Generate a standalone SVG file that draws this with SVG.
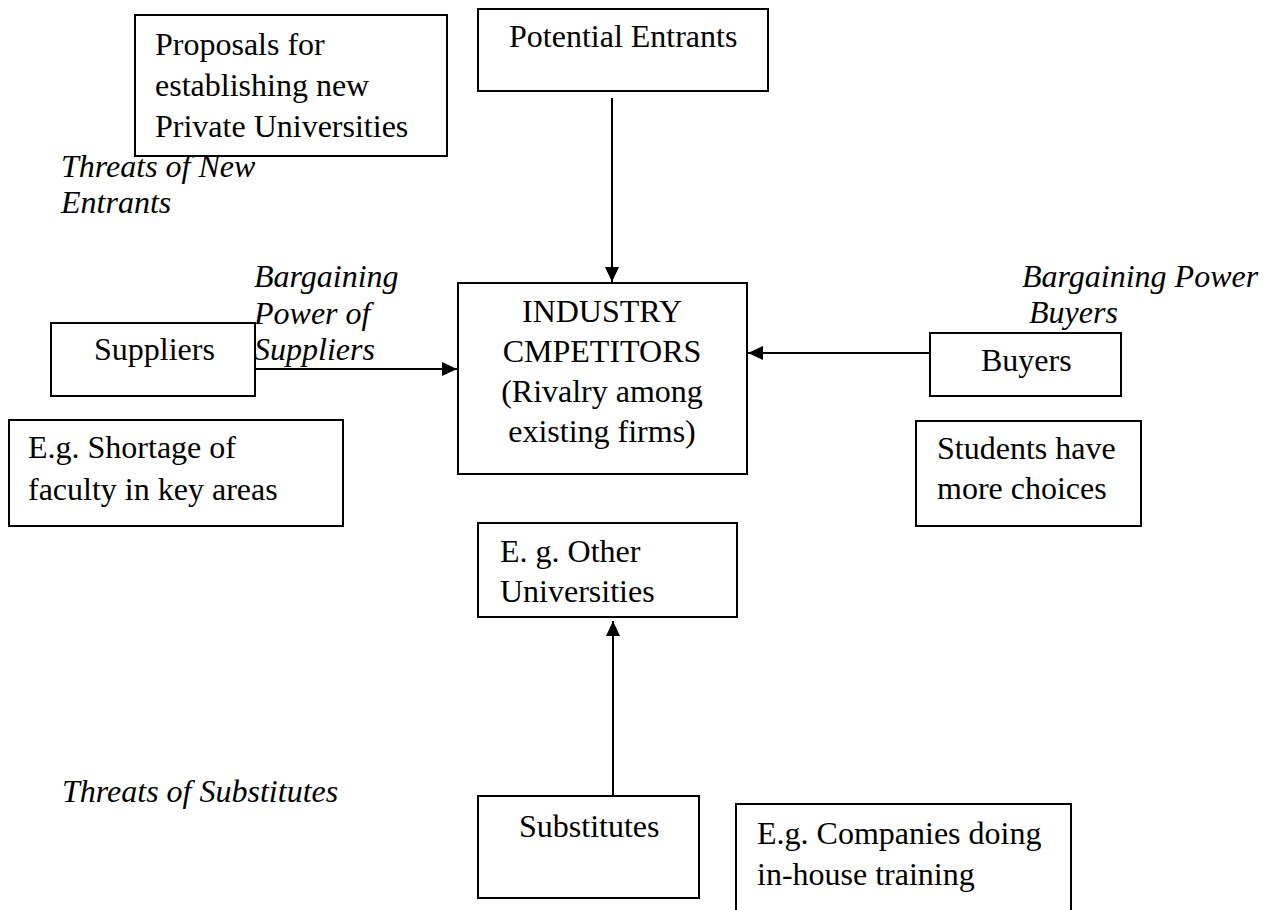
<svg xmlns="http://www.w3.org/2000/svg" width="1266" height="910" viewBox="0 0 1266 910" font-family="'Liberation Serif', 'Times New Roman', Times, serif">
<style>
text { font-family: 'Liberation Serif', 'Times New Roman', Times, serif; font-size: 32px; fill: #000; }
.lbl { font-style: italic; }
.box { fill: #fff; stroke: #000; stroke-width: 2; }
.conn { stroke: #000; stroke-width: 2; fill: none; marker-end: url(#arr); }
</style>
<defs>
<marker id="arr" markerUnits="userSpaceOnUse" markerWidth="16" markerHeight="14" refX="15" refY="7" orient="auto">
<path d="M0,0 L15,7 L0,14 z" fill="#000"/>
</marker>
</defs>
<rect width="1266" height="910" fill="#fff"/>

<g id="proposals">
<rect class="box" x="135" y="15" width="312" height="141"/>
<text x="155" y="55">Proposals for</text>
<text x="155" y="96">establishing new</text>
<text x="155" y="137">Private Universities</text>
</g>

<g id="potential-entrants">
<rect class="box" x="478" y="9" width="290" height="82"/>
<text x="509" y="47">Potential Entrants</text>
</g>

<g id="label-new-entrants">
<text class="lbl" x="61" y="177">Threats of New</text>
<text class="lbl" x="61" y="213">Entrants</text>
</g>

<g id="label-suppliers">
<text class="lbl" x="254" y="287">Bargaining</text>
<text class="lbl" x="254" y="324">Power of</text>
<text class="lbl" x="254" y="360">Suppliers</text>
</g>

<g id="label-buyers">
<text class="lbl" x="1022" y="287">Bargaining Power</text>
<text class="lbl" x="1029" y="323">Buyers</text>
</g>

<g id="industry">
<rect class="box" x="458" y="283" width="289" height="191"/>
<text x="602" y="322" text-anchor="middle">INDUSTRY</text>
<text x="602" y="362" text-anchor="middle">CMPETITORS</text>
<text x="602" y="402" text-anchor="middle">(Rivalry among</text>
<text x="602" y="442" text-anchor="middle">existing firms)</text>
</g>

<g id="suppliers">
<rect class="box" x="51" y="323" width="204" height="73"/>
<text x="94" y="360">Suppliers</text>
</g>

<g id="buyers">
<rect class="box" x="930" y="333" width="191" height="63"/>
<text x="981" y="371">Buyers</text>
</g>

<g id="shortage">
<rect class="box" x="9" y="420" width="334" height="106"/>
<text x="28" y="458">E.g. Shortage of</text>
<text x="28" y="500">faculty in key areas</text>
</g>

<g id="students">
<rect class="box" x="916" y="421" width="225" height="105"/>
<text x="937" y="459">Students have</text>
<text x="937" y="499">more choices</text>
</g>

<g id="other-universities">
<rect class="box" x="478" y="523" width="259" height="94"/>
<text x="500" y="562">E. g. Other</text>
<text x="500" y="602">Universities</text>
</g>

<g id="label-substitutes">
<text class="lbl" x="62" y="802">Threats of Substitutes</text>
</g>

<g id="substitutes">
<rect class="box" x="478" y="796" width="221" height="102"/>
<text x="519" y="837">Substitutes</text>
</g>

<g id="companies">
<rect class="box" x="736" y="804" width="335" height="130"/>
<text x="757" y="844">E.g. Companies doing</text>
<text x="757" y="885">in-house training</text>
</g>

<g id="connectors">
<line class="conn" x1="612" y1="98" x2="612" y2="282"/>
<line class="conn" x1="255" y1="369" x2="457" y2="369"/>
<line class="conn" x1="930" y1="353" x2="748" y2="353"/>
<line class="conn" x1="613" y1="796" x2="613" y2="621"/>
</g>
</svg>
